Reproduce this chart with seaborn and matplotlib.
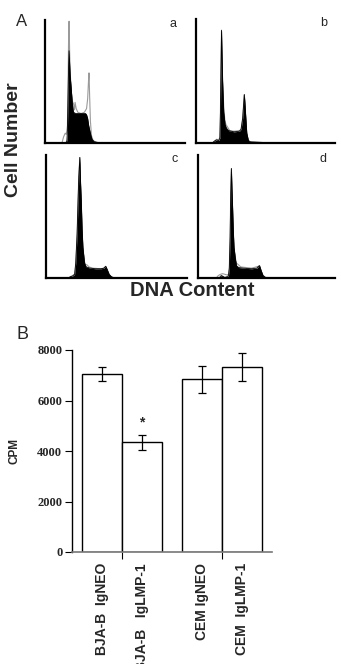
import numpy as np
import pandas as pd
import matplotlib
matplotlib.use('Agg')
import matplotlib.pyplot as plt
import seaborn as sns

# ---- panel A: DNA content histograms (channel, cell count)
a_black_ch = [0, 38, 40, 41, 42, 43, 44, 45, 46, 48, 50, 52, 56, 62, 68, 74, 76, 78, 80, 82, 84, 86, 90, 96, 120, 256]
a_black_n = [0, 0, 2, 10, 35, 60, 75, 65, 55, 44, 32, 25, 24, 24, 24, 24, 23, 20, 14, 10, 6, 3, 1, 0.5, 0.3, 0]
a_grey_ch = [28, 31, 34, 37, 39, 41, 42, 43, 44, 45, 46, 48, 50, 52, 54, 55, 57, 60, 66, 72, 76, 78, 79.5, 80.5, 81.5, 83, 85, 88, 94, 110]
a_grey_n = [0, 0, 5, 8, 7, 14, 40, 80, 99, 75, 58, 42, 34, 32, 27, 33, 28, 25, 24, 25, 28, 36, 50, 57, 40, 18, 6, 2, 0.5, 0]

b_black_ch = [0, 30, 34, 38, 42, 44, 45, 46, 47, 48, 49, 51, 53.5, 56, 60, 70, 80, 83, 86, 88, 89, 90, 91.5, 93.5, 96.5, 100, 130, 256]
b_black_n = [0, 0, 1.5, 2.5, 2, 4, 25, 60, 91, 70, 50, 25, 15, 12, 10, 9, 9.5, 11, 20, 33, 39, 33, 22, 8, 2, 1, 0.3, 0]
b_grey_ch = [30, 34, 38, 42, 44, 45, 46, 47, 48, 49, 51, 53, 55, 58, 62, 70, 80, 83, 86, 88, 89, 90, 91.5, 93.5, 96.5, 100]
b_grey_n = [0, 1.5, 3, 2.5, 5, 25, 60, 90, 70, 50, 30, 19, 15, 13, 10, 9.5, 10, 11, 20, 33, 39, 33, 22, 8, 2, 0.5]

c_black_ch = [0, 40, 44, 48, 52, 54, 56.5, 58, 59.5, 61.4, 62.5, 64, 65.5, 67, 70, 73, 80, 90, 100, 105, 108.5, 111, 114.5, 119, 125, 256]
c_black_n = [0, 0, 1, 1.5, 3, 12, 36, 60, 82, 98, 80, 63, 40, 25, 12, 9, 8, 7.5, 7.5, 8, 9.5, 7, 3, 1, 0, 0]
c_grey_ch = [44, 52, 54, 56.5, 58, 59.5, 61.4, 62.5, 64, 65.5, 67, 70, 72, 75, 78, 85, 100, 105, 108.5, 112, 116, 120]
c_grey_n = [1, 3, 12, 36, 60, 82, 98, 80, 63, 40, 25, 13, 11, 10.5, 9, 8, 7.5, 8, 9.5, 6, 2, 0.5]

d_black_ch = [0, 40, 42, 44, 46, 50, 54, 57, 58.5, 60, 61.2, 62.4, 63.5, 64.8, 66, 67.3, 70, 72, 76, 85, 100, 110, 113, 115, 118, 121.5, 126, 256]
d_black_n = [0, 0, 1.5, 2, 1.5, 0.5, 1, 2, 8, 33, 69, 89, 72, 55, 38, 25, 15, 10, 8.5, 8, 7.5, 8, 9.5, 10, 6, 2, 0.5, 0]
d_grey_ch = [34, 38, 42, 46, 50, 54, 57, 58.5, 60, 61.2, 62.4, 63.5, 64.8, 66, 67.3, 70, 72, 75, 80, 100, 113, 115, 118, 121.5, 126]
d_grey_n = [0, 2, 3, 3.5, 3, 2.5, 3, 8, 33, 69, 89, 72, 55, 38, 25, 16, 12, 11, 9, 8, 9.5, 10, 6, 2, 0.5]

panel_letters = ['a', 'b', 'c', 'd']

# ---- panel B: thymidine incorporation
cell_lines = ['BJA-B', 'BJA-B', 'CEM', 'CEM']
constructs = ['IgNEO', 'IgLMP-1', 'IgNEO', 'IgLMP-1']
cpm_mean = [7050, 4340, 6840, 7330]
cpm_err = [270, 300, 545, 540]
bar_labels = ['BJA-B  IgNEO', 'BJA-B   IgLMP-1', 'CEM IgNEO', 'CEM  IgLMP-1']
cpm_ticks = [0, 2000, 4000, 6000, 8000]
significant = [False, True, False, False]

sns.set_style('white')
plt.rcParams['font.family'] = ['Liberation Sans', 'DejaVu Sans']

W, H = 342, 664
fig = plt.figure(figsize=(W / 100, H / 100), dpi=100)


def box(left, top, right, bottom):
    return [left / W, 1 - bottom / H, (right - left) / W, (bottom - top) / H]


hist_boxes = [box(45, 20, 185, 143), box(196, 19, 335, 143),
              box(46, 155, 187, 278), box(198, 155, 335, 278)]
hist_data = [(a_black_ch, a_black_n, a_grey_ch, a_grey_n),
             (b_black_ch, b_black_n, b_grey_ch, b_grey_n),
             (c_black_ch, c_black_n, c_grey_ch, c_grey_n),
             (d_black_ch, d_black_n, d_grey_ch, d_grey_n)]

for rect, (bch, bn, gch, gn), letter in zip(hist_boxes, hist_data, panel_letters):
    ax = fig.add_axes(rect)
    sns.lineplot(x=gch, y=gn, color='#9a9a9a', lw=0.8, ax=ax, zorder=1)
    ax.fill_between(bch, bn, color='black', lw=0, zorder=2)
    sns.lineplot(x=bch, y=bn, color='black', lw=0.6, ax=ax, zorder=3)
    ax.set_xlim(0, 256)
    ax.set_ylim(0, 100)
    ax.set_xticks([])
    ax.set_yticks([])
    ax.set_xlabel('')
    ax.set_ylabel('')
    for s in ['top', 'right']:
        ax.spines[s].set_visible(False)
    for s in ['left', 'bottom']:
        ax.spines[s].set_color('black')
        ax.spines[s].set_linewidth(1.6)
    ax.patch.set_alpha(0)
    ax.text(0.915, 0.965, letter, transform=ax.transAxes, ha='center', va='center',
            fontsize=9)

fig.text(22 / W, 1 - 21 / H, 'A', fontsize=12, ha='center', va='center')
fig.text(14 / W, 1 - 140 / H, 'Cell Number', rotation=90, fontsize=14,
         fontweight='bold', ha='center', va='center')
fig.text(192 / W, 1 - 290 / H, 'DNA Content', fontsize=14.5, fontweight='bold',
         ha='center', va='center')
fig.text(22 / W, 1 - 335 / H, 'B', fontsize=13, ha='center', va='center')

# ---- bar chart
df = pd.DataFrame({'cell': cell_lines, 'construct': constructs,
                   'cpm': cpm_mean, 'err': cpm_err})
axb = fig.add_axes(box(72, 350, 272, 552))
sns.barplot(data=df, x='cell', y='cpm', hue='construct', palette=['white', 'white'],
            edgecolor='black', linewidth=1, errorbar=None, legend=False, ax=axb,
            zorder=2)

order = list(dict.fromkeys(cell_lines))
hue_order = list(dict.fromkeys(constructs))
centers = {}
for cont, lev in zip(axb.containers, hue_order):
    for bar, cell in zip(cont, order):
        centers[(cell, lev)] = bar.get_x() + bar.get_width() / 2
xs = [centers[(c, k)] for c, k in zip(cell_lines, constructs)]

axb.errorbar(xs, cpm_mean, yerr=cpm_err, fmt='none', ecolor='black',
             elinewidth=0.9, capsize=2.6, capthick=0.9, zorder=3)
for x, m, e, sig in zip(xs, cpm_mean, cpm_err, significant):
    if sig:
        axb.text(x, m + e + 320, '*', ha='center', va='baseline', fontsize=10,
                 fontweight='bold')

axb.set_xlim(-0.5, 1.5)
axb.set_ylim(0, 8000)
axb.set_yticks(cpm_ticks)
axb.set_yticklabels([str(t) for t in cpm_ticks], family='Liberation Serif',
                    fontweight='bold', fontsize=9)
axb.set_xticks([0, 1], ['', ''])
axb.set_xticks(xs, bar_labels, minor=True)
axb.tick_params(axis='x', which='major', length=5, width=0.8, color='black',
                direction='out', bottom=True)
axb.tick_params(axis='x', which='minor', length=0, pad=8, labelrotation=90,
                labelsize=10, bottom=True)
for lab in axb.get_xticklabels(minor=True):
    lab.set_fontweight('bold')
axb.tick_params(axis='y', length=5, width=0.8, color='black', direction='out',
                left=True, pad=2)
axb.set_xlabel('')
axb.set_ylabel('CPM', fontsize=8.5, fontweight='bold', labelpad=12)
for s in ['top', 'right']:
    axb.spines[s].set_visible(False)
axb.spines['left'].set_color('black')
axb.spines['left'].set_linewidth(1.0)
axb.spines['bottom'].set_color('#777777')
axb.spines['bottom'].set_linewidth(1.2)
axb.patch.set_alpha(0)

fig.savefig('out.png', dpi=100)
